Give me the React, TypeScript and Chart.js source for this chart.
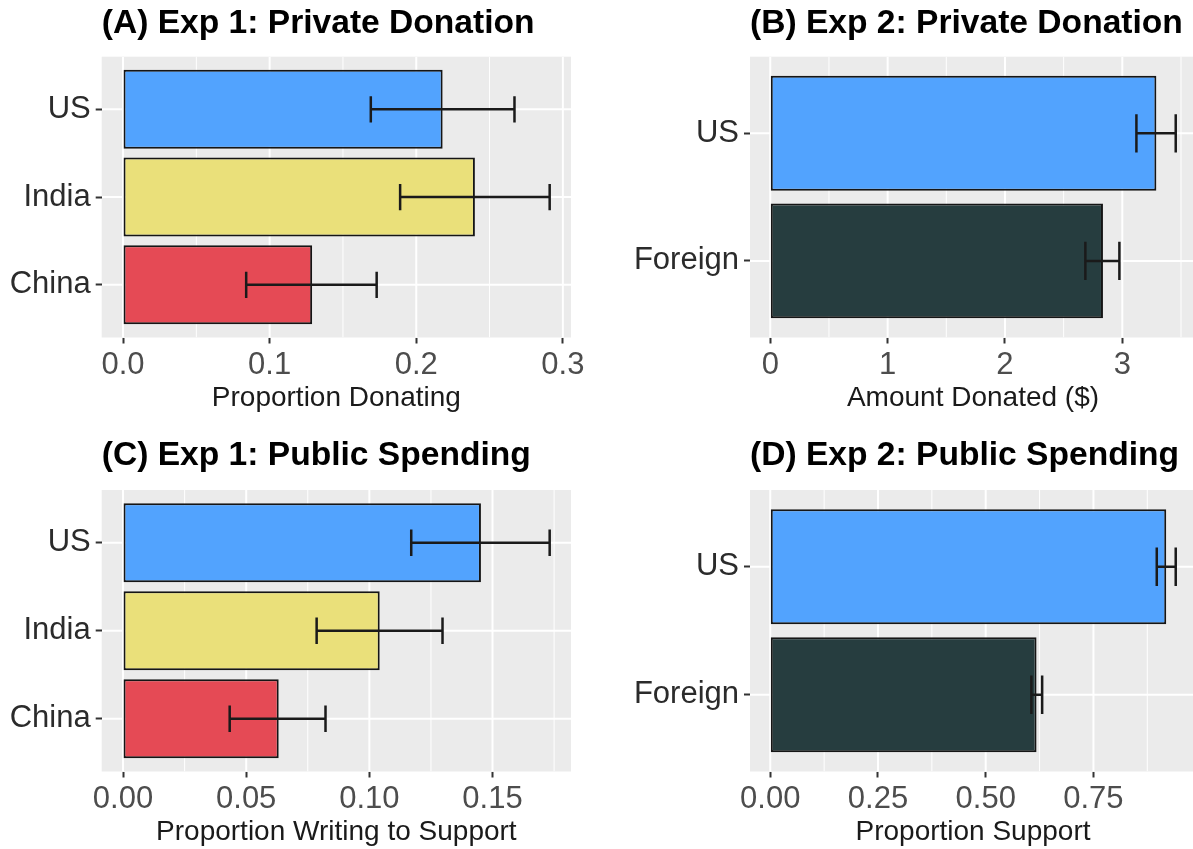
import React, { useEffect, useRef } from 'react';
import { Chart, registerables } from 'chart.js';

Chart.register(...registerables);

// ---------- data ----------
const EXP1_CATEGORIES = ['US', 'India', 'China'];
const EXP2_CATEGORIES = ['US', 'Foreign'];

const EXP1_COLORS = ['#52A3FE', '#EAE07A', '#E54A55'];
const EXP2_COLORS = ['#52A3FE', '#263D3F'];

// (A) Exp 1: Private Donation
const A_MEAN = [0.218, 0.240, 0.129];
const A_LOW = [0.169, 0.189, 0.084];
const A_HIGH = [0.267, 0.291, 0.173];
const A_TICKS = [0, 0.1, 0.2, 0.3];
const A_TICK_LABELS = ['0.0', '0.1', '0.2', '0.3'];

// (B) Exp 2: Private Donation
const B_MEAN = [3.29, 2.835];
const B_LOW = [3.12, 2.685];
const B_HIGH = [3.455, 2.975];
const B_TICKS = [0, 1, 2, 3];
const B_TICK_LABELS = ['0', '1', '2', '3'];

// (C) Exp 1: Public Spending
const C_MEAN = [0.1453, 0.1042, 0.0632];
const C_LOW = [0.117, 0.0786, 0.0433];
const C_HIGH = [0.1732, 0.1297, 0.0822];
const C_TICKS = [0, 0.05, 0.1, 0.15];
const C_TICK_LABELS = ['0.00', '0.05', '0.10', '0.15'];

// (D) Exp 2: Public Spending
const D_MEAN = [0.919, 0.618];
const D_LOW = [0.897, 0.606];
const D_HIGH = [0.941, 0.631];
const D_TICKS = [0, 0.25, 0.5, 0.75];
const D_TICK_LABELS = ['0.00', '0.25', '0.50', '0.75'];

const FONT = "'Liberation Sans', Arial, Helvetica, sans-serif";
Chart.defaults.font.family = FONT;

const ERRORBAR_WIDTH = 0.3;

const ggPanel = {
  id: 'ggPanel',
  beforeDraw(chart: any, _args: any, opts: any) {
    const { ctx, chartArea: a, scales } = chart;
    const xs = scales.x;
    const ys = scales.y;
    ctx.save();
    ctx.fillStyle = '#EBEBEB';
    ctx.fillRect(a.left, a.top, a.right - a.left, a.bottom - a.top);
    ctx.beginPath();
    ctx.rect(a.left, a.top, a.right - a.left, a.bottom - a.top);
    ctx.clip();
    ctx.strokeStyle = '#FFFFFF';
    const ticks: number[] = opts.ticks;
    const step = ticks[1] - ticks[0];
    const minor: number[] = [ticks[0] - step / 2, ...ticks.map((t) => t + step / 2)];
    ctx.lineWidth = 1;
    minor.forEach((v) => {
      if (v < xs.min || v > xs.max) return;
      const px = xs.getPixelForValue(v);
      ctx.beginPath();
      ctx.moveTo(px, a.top);
      ctx.lineTo(px, a.bottom);
      ctx.stroke();
    });
    ctx.lineWidth = 2;
    ticks.forEach((v) => {
      const px = xs.getPixelForValue(v);
      ctx.beginPath();
      ctx.moveTo(px, a.top);
      ctx.lineTo(px, a.bottom);
      ctx.stroke();
    });
    (opts.categories as string[]).forEach((_c, i) => {
      const py = ys.getPixelForValue(i + 1);
      ctx.beginPath();
      ctx.moveTo(a.left, py);
      ctx.lineTo(a.right, py);
      ctx.stroke();
    });
    ctx.restore();
  },
  afterDatasetsDraw(chart: any, _args: any, opts: any) {
    const { ctx, scales } = chart;
    const xs = scales.x;
    const ys = scales.y;
    ctx.save();
    ctx.strokeStyle = '#1A1A1A';
    ctx.lineWidth = 2.5;
    (opts.low as number[]).forEach((lo, i) => {
      const hi = opts.high[i];
      const cy = ys.getPixelForValue(i + 1);
      const half = Math.abs(ys.getPixelForValue(i + 1 + ERRORBAR_WIDTH / 2) - cy);
      const x0 = xs.getPixelForValue(lo);
      const x1 = xs.getPixelForValue(hi);
      ctx.beginPath();
      ctx.moveTo(x0, cy);
      ctx.lineTo(x1, cy);
      ctx.moveTo(x0, cy - half);
      ctx.lineTo(x0, cy + half);
      ctx.moveTo(x1, cy - half);
      ctx.lineTo(x1, cy + half);
      ctx.stroke();
    });
    ctx.restore();
  },
};

type PanelCfg = {
  title: string;
  xTitle: string;
  categories: string[];
  colors: string[];
  mean: number[];
  low: number[];
  high: number[];
  ticks: number[];
  tickLabels: string[];
  left: number;
  top: number;
  width: number;
  height: number;
  chartLeft: number;
  chartRight: number;
  chartTop: number;
  chartBottom: number;
  titleCenter: number;
  xTitleCenter: number;
};

const TITLE_SIZE = 33.6;
const TICK_SIZE = 31;
const XTITLE_SIZE = 28;

function Panel({ cfg }: { cfg: PanelCfg }) {
  const ref = useRef<HTMLCanvasElement>(null);
  useEffect(() => {
    const titleLH = TITLE_SIZE * 1.2;
    const titlePadTop = cfg.titleCenter - cfg.top - titleLH / 2;
    const titlePadBottom = cfg.chartTop - cfg.top - titlePadTop - titleLH;
    const xAxisHeight = cfg.top + cfg.height - cfg.chartBottom;
    const xTitleLH = XTITLE_SIZE * 1.2;
    const xTitlePadBottom = cfg.top + cfg.height - cfg.xTitleCenter - xTitleLH / 2;
    const yAxisWidth = cfg.chartLeft - cfg.left;
    const rightPad = cfg.left + cfg.width - cfg.chartRight;
    const maxHigh = Math.max(...cfg.high);
    const n = cfg.categories.length;

    const chart = new Chart(ref.current!, {
      type: 'bar',
      data: {
        datasets: [
          {
            data: cfg.mean.map((v, i) => ({ x: v, y: i + 1 })),
            backgroundColor: cfg.colors,
            borderColor: '#151515',
            borderWidth: 2,
            borderSkipped: false,
            barPercentage: 0.9,
            categoryPercentage: 1.0,
          } as any,
        ],
      },
      options: {
        indexAxis: 'y',
        animation: false,
        responsive: false,
        events: [],
        layout: { padding: { top: 0, left: 0, bottom: 0, right: rightPad } },
        plugins: {
          legend: { display: false },
          tooltip: { enabled: false },
          title: {
            display: true,
            text: cfg.title,
            align: 'start',
            fullSize: false,
            color: '#000000',
            font: { size: TITLE_SIZE, weight: 'bold', family: FONT },
            padding: { top: titlePadTop, bottom: titlePadBottom },
          },
          ggPanel: {
            ticks: cfg.ticks,
            categories: cfg.categories,
            low: cfg.low,
            high: cfg.high,
          },
        } as any,
        scales: {
          x: {
            type: 'linear',
            min: -0.05 * maxHigh,
            max: 1.05 * maxHigh,
            offset: false,
            afterBuildTicks: (s: any) => {
              s.ticks = cfg.ticks.map((v) => ({ value: v }));
            },
            afterFit: (s: any) => {
              s.height = xAxisHeight;
            },
            grid: {
              offset: false,
              drawOnChartArea: false,
              drawTicks: true,
              tickLength: 6,
              tickColor: '#333333',
              tickWidth: 2,
            },
            border: { display: false },
            ticks: {
              autoSkip: false,
              maxRotation: 0,
              padding: 3,
              color: '#4D4D4D',
              font: { size: TICK_SIZE },
              callback: (v: any) => {
                const idx = cfg.ticks.findIndex((t) => Math.abs(t - Number(v)) < 1e-9);
                return idx >= 0 ? cfg.tickLabels[idx] : '';
              },
            },
            title: {
              display: true,
              text: cfg.xTitle,
              color: '#1A1A1A',
              font: { size: XTITLE_SIZE },
              padding: { top: 0, bottom: xTitlePadBottom },
            },
          },
          y: {
            type: 'linear',
            min: 0.4,
            max: n + 0.6,
            reverse: true,
            offset: false,
            afterBuildTicks: (s: any) => {
              s.ticks = cfg.categories.map((_c, i) => ({ value: i + 1 }));
            },
            afterFit: (s: any) => {
              s.width = yAxisWidth;
            },
            grid: {
              offset: false,
              drawOnChartArea: false,
              drawTicks: true,
              tickLength: 6,
              tickColor: '#333333',
              tickWidth: 2,
            },
            border: { display: false },
            ticks: {
              autoSkip: false,
              padding: 5,
              color: '#2B2B2B',
              font: { size: TICK_SIZE },
              callback: (v: any) => cfg.categories[Math.round(Number(v)) - 1] ?? '',
            },
          },
        },
      } as any,
      plugins: [ggPanel as any],
    });
    return () => chart.destroy();
  }, [cfg]);
  return (
    <canvas
      ref={ref}
      width={cfg.width}
      height={cfg.height}
      style={{
        position: 'absolute',
        left: cfg.left,
        top: cfg.top,
        width: cfg.width,
        height: cfg.height,
      }}
    />
  );
}

const TOP_ROW = { top: 0, height: 424, chartTop: 56.7, chartBottom: 337.5, titleCenter: 23.3, xTitleCenter: 398 };
const BOTTOM_ROW = { top: 424, height: 425, chartTop: 490, chartBottom: 771.5, titleCenter: 456, xTitleCenter: 832 };
const LEFT_COL = { left: 0, width: 596, chartLeft: 101.7, chartRight: 571 };
const RIGHT_COL = { left: 596, width: 600, chartLeft: 750, chartRight: 1196 };

const PANELS: PanelCfg[] = [
  {
    title: '(A) Exp 1: Private Donation',
    xTitle: 'Proportion Donating',
    categories: EXP1_CATEGORIES,
    colors: EXP1_COLORS,
    mean: A_MEAN,
    low: A_LOW,
    high: A_HIGH,
    ticks: A_TICKS,
    tickLabels: A_TICK_LABELS,
    ...TOP_ROW,
    ...LEFT_COL,
  },
  {
    title: '(B) Exp 2: Private Donation',
    xTitle: 'Amount Donated ($)',
    categories: EXP2_CATEGORIES,
    colors: EXP2_COLORS,
    mean: B_MEAN,
    low: B_LOW,
    high: B_HIGH,
    ticks: B_TICKS,
    tickLabels: B_TICK_LABELS,
    ...TOP_ROW,
    ...RIGHT_COL,
  },
  {
    title: '(C) Exp 1: Public Spending',
    xTitle: 'Proportion Writing to Support',
    categories: EXP1_CATEGORIES,
    colors: EXP1_COLORS,
    mean: C_MEAN,
    low: C_LOW,
    high: C_HIGH,
    ticks: C_TICKS,
    tickLabels: C_TICK_LABELS,
    ...BOTTOM_ROW,
    ...LEFT_COL,
  },
  {
    title: '(D) Exp 2: Public Spending',
    xTitle: 'Proportion Support',
    categories: EXP2_CATEGORIES,
    colors: EXP2_COLORS,
    mean: D_MEAN,
    low: D_LOW,
    high: D_HIGH,
    ticks: D_TICKS,
    tickLabels: D_TICK_LABELS,
    ...BOTTOM_ROW,
    ...RIGHT_COL,
  },
];

export default function App() {
  return (
    <div
      style={{
        position: 'fixed',
        left: 0,
        top: 0,
        width: 1193,
        height: 849,
        overflow: 'hidden',
        background: '#FFFFFF',
      }}
    >
      {PANELS.map((p) => (
        <Panel key={p.title} cfg={p} />
      ))}
    </div>
  );
}
